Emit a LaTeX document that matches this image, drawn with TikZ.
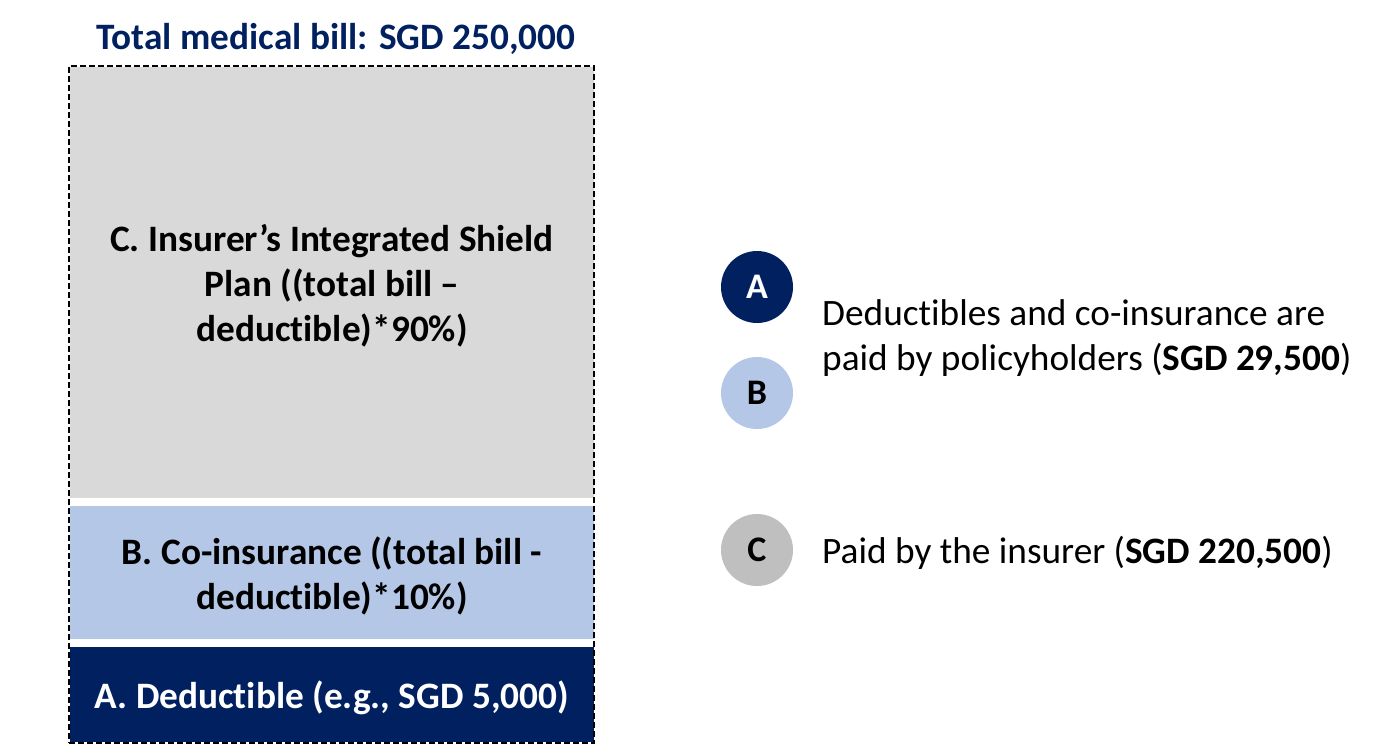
\documentclass[tikz,border=0pt]{standalone}
\usepackage{fontspec}
\setmainfont{Carlito}[Ligatures={NoCommon}]
\definecolor{navy}{HTML}{002060}
\definecolor{lightblue}{HTML}{B4C7E7}
\definecolor{lightgray}{HTML}{D9D9D9}
\definecolor{midgray}{HTML}{BFBFBF}
\tikzset{
  block/.style={inner sep=0pt, minimum width=524pt},
  blocktext/.style={inner sep=0pt, align=center, yshift=-3.5pt, font=\fontsize{37.3}{45}\selectfont\bfseries},
  circ/.style={circle, inner sep=0pt, minimum size=72pt},
  circtext/.style={inner sep=0pt, font=\fontsize{36}{40}\selectfont\bfseries},
  legend/.style={anchor=west, align=left, inner sep=0pt, font=\fontsize{37.3}{45.5}\selectfont},
  frame/.style={draw=black, line width=2pt, dash pattern=on 6pt off 3pt}
}
\begin{document}
\begin{tikzpicture}[x=1pt,y=-1pt]
\useasboundingbox (0,0) rectangle (1377,745);
\node[font=\fontsize{37.3}{40}\selectfont\bfseries, text=navy, inner sep=0pt] (title) at (336,39) {Total medical bill: SGD 250,000};
\node[block, fill=lightgray, minimum height=431pt] (c) at (332,282.5) {};
\node[block, fill=lightblue, minimum height=133pt] (b) at (332,572.5) {};
\node[block, fill=navy, minimum height=95pt] (a) at (332,694.5) {};
\node[blocktext] (ct) at (c.center) {C. Insurer’s Integrated Shield\\Plan ((total bill –\\deductible)*90\%)};
\node[blocktext] (bt) at (b.center) {B. Co-insurance ((total bill -\\deductible)*10\%)};
\node[blocktext, text=white] (at) at (a.center) {A. Deductible (e.g., SGD 5,000)};
\node[frame, fill=none, inner sep=0pt, minimum width=525pt, minimum height=677pt] (border) at (331.5,404.5) {};
\node[circ, fill=navy] (ca) at (757,287) {};
\node[circ, fill=lightblue] (cb) at (757,393) {};
\node[circ, fill=midgray] (cc) at (757,550) {};
\node[circtext, text=white] at (ca.center) {A};
\node[circtext] at (cb.center) {B};
\node[circtext] at (cc.center) {C};
\node[legend] (lab) at (822,338) {Deductibles and co-insurance are\\paid by policyholders (\textbf{SGD 29,500})};
\node[legend] (lc) at (822,553) {Paid by the insurer (\textbf{SGD 220,500})};
\end{tikzpicture}
\end{document}
